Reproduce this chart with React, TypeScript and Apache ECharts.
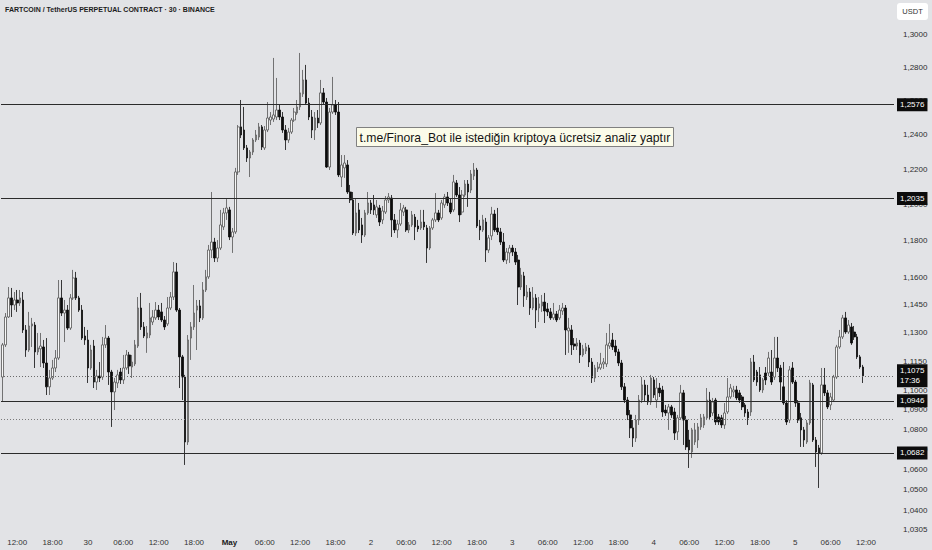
import React, { useEffect, useRef } from "react";
import * as echarts from "echarts";

// [open, close, low, high] per 30-minute candle
const apr29 = [
  [1.1069,1.1237,1.0940,1.1247],[1.1237,1.1385,1.1226,1.1406],[1.1385,1.1487,1.1380,1.1546],[1.1487,1.1449,1.1385,1.1541],
  [1.1449,1.1476,1.1422,1.1519],[1.1476,1.1460,1.1412,1.1530],[1.1460,1.1487,1.1444,1.1530],[1.1476,1.1316,1.1300,1.1519],
  [1.1316,1.1210,1.1174,1.1342],[1.1210,1.1337,1.1200,1.1412],[1.1337,1.1348,1.1226,1.1380],[1.1342,1.1200,1.1116,1.1358],
  [1.1200,1.1221,1.1184,1.1300],[1.1216,1.1231,1.1121,1.1300],[1.1226,1.1142,1.1116,1.1263],[1.1142,1.1018,1.0976,1.1273],
  [1.1018,1.1064,1.0976,1.1106],[1.1064,1.1116,1.1054,1.1158],[1.1116,1.1168,1.1095,1.1210],[1.1168,1.1487,1.1158,1.1584],
  [1.1487,1.1406,1.1390,1.1584],[1.1406,1.1422,1.1252,1.1476],[1.1422,1.1326,1.1316,1.1449],[1.1326,1.1487,1.1316,1.1508],
  [1.1487,1.1595,1.1476,1.1639],[1.1595,1.1487,1.1476,1.1628],[1.1487,1.1422,1.1412,1.1498],[1.1422,1.1273,1.1263,1.1449],
  [1.1284,1.1263,1.1237,1.1332],
];
const apr30 = [
  [1.1263,1.1116,1.1038,1.1316],[1.1116,1.1210,1.1106,1.1237],[1.1231,1.1043,1.1012,1.1263],[1.1043,1.1074,1.1002,1.1106],
  [1.1074,1.1064,1.1043,1.1147],[1.1069,1.1237,1.1054,1.1279],[1.1237,1.1273,1.1221,1.1342],[1.1273,1.1095,1.1028,1.1284],
  [1.1095,1.0992,1.0813,1.1106],[1.0992,1.1043,1.0899,1.1064],[1.1038,1.1080,1.1012,1.1106],[1.1095,1.1054,1.1033,1.1116],
  [1.1054,1.1116,1.1033,1.1184],[1.1116,1.1184,1.1106,1.1210],[1.1184,1.1126,1.1085,1.1200],[1.1121,1.1147,1.1064,1.1184],
  [1.1137,1.1237,1.1126,1.1263],[1.1231,1.1433,1.1221,1.1492],[1.1433,1.1332,1.1316,1.1514],[1.1332,1.1284,1.1273,1.1358],
  [1.1273,1.1300,1.1195,1.1337],[1.1289,1.1380,1.1273,1.1460],[1.1358,1.1385,1.1342,1.1422],[1.1380,1.1422,1.1369,1.1465],
  [1.1422,1.1385,1.1369,1.1449],[1.1412,1.1369,1.1358,1.1460],[1.1369,1.1332,1.1316,1.1390],[1.1348,1.1433,1.1337,1.1492],
  [1.1433,1.1492,1.1422,1.1519],[1.1492,1.1628,1.1476,1.1682],[1.1628,1.1422,1.1412,1.1677],[1.1422,1.1174,1.1012,1.1433],
  [1.1174,1.1069,1.0950,1.1184],[1.1069,1.0737,1.0622,1.1080],[1.0737,1.1263,1.0722,1.1289],[1.1273,1.1332,1.1158,1.1358],
  [1.1332,1.1406,1.1316,1.1557],[1.1422,1.1444,1.1210,1.1476],[1.1444,1.1380,1.1358,1.1476],[1.1380,1.1530,1.1369,1.1573],
  [1.1530,1.1601,1.1519,1.1639],[1.1601,1.1748,1.1590,1.1776],[1.1748,1.1792,1.1704,1.2072],[1.1792,1.1704,1.1682,1.1815],
  [1.1704,1.1759,1.1682,1.1803],[1.1759,1.1887,1.1748,1.1971],[1.1876,1.1954,1.1859,1.1982],[1.1954,1.1982,1.1915,1.2032],
];
const may1 = [
  [1.1971,1.1820,1.1803,1.1988],[1.1820,1.1848,1.1732,1.1870],[1.1848,1.2186,1.1837,1.2209],[1.2186,1.2446,1.2169,1.2457],
  [1.2446,1.2399,1.2381,1.2604],[1.2428,1.2324,1.2312,1.2563],[1.2324,1.2266,1.2243,1.2341],[1.2266,1.2300,1.2157,1.2312],
  [1.2300,1.2370,1.2283,1.2381],[1.2370,1.2399,1.2358,1.2428],[1.2387,1.2446,1.2370,1.2469],[1.2446,1.2329,1.2312,1.2457],
  [1.2324,1.2428,1.2312,1.2451],[1.2428,1.2498,1.2416,1.2592],[1.2486,1.2504,1.2457,1.2533],[1.2492,1.2516,1.2475,1.2855],
  [1.2504,1.2545,1.2486,1.2735],[1.2545,1.2504,1.2486,1.2575],[1.2504,1.2428,1.2411,1.2533],[1.2428,1.2370,1.2312,1.2457],
  [1.2370,1.2416,1.2353,1.2440],[1.2416,1.2486,1.2405,1.2498],[1.2486,1.2533,1.2475,1.2557],[1.2527,1.2563,1.2516,1.2604],
  [1.2563,1.2646,1.2545,1.2885],[1.2640,1.2723,1.2622,1.2783],[1.2723,1.2586,1.2575,1.2813],[1.2586,1.2504,1.2486,1.2616],
  [1.2504,1.2428,1.2381,1.2545],[1.2428,1.2498,1.2370,1.2533],[1.2498,1.2469,1.2440,1.2545],[1.2469,1.2646,1.2457,1.2723],
  [1.2646,1.2592,1.2575,1.2675],[1.2592,1.2214,1.2209,1.2616],[1.2214,1.2533,1.2197,1.2557],[1.2533,1.2575,1.2522,1.2741],
  [1.2575,1.2533,1.2516,1.2604],[1.2533,1.2169,1.2157,1.2592],[1.2157,1.2226,1.2100,1.2283],[1.2209,1.2237,1.2152,1.2283],
  [1.2226,1.2072,1.2061,1.2254],[1.2072,1.2027,1.2010,1.2112],[1.2027,1.1842,1.1831,1.2072],[1.1842,1.1954,1.1826,1.2038],
  [1.1971,1.1859,1.1842,1.2010],[1.1887,1.1831,1.1787,1.1926],[1.1831,1.1954,1.1820,1.1971],[1.1954,1.2010,1.1943,1.2072],
];
const may2 = [
  [1.2010,1.1971,1.1948,1.2027],[1.1999,1.1971,1.1943,1.2055],[1.1943,1.1988,1.1926,1.2027],[1.1982,1.1903,1.1881,1.1999],
  [1.1915,1.1965,1.1892,1.1993],[1.1959,1.2027,1.1948,1.2049],[1.2027,1.2044,1.2010,1.2066],[1.2038,1.1915,1.1820,1.2055],
  [1.1915,1.1859,1.1842,1.1948],[1.1859,1.1892,1.1815,1.1915],[1.1892,1.1971,1.1881,1.2010],[1.1959,1.1982,1.1937,1.1999],
  [1.1971,1.1859,1.1848,1.1988],[1.1859,1.1887,1.1842,1.1903],[1.1887,1.1943,1.1876,1.1965],[1.1931,1.1876,1.1803,1.1948],
  [1.1881,1.1865,1.1848,1.1915],[1.1870,1.1903,1.1859,1.1971],[1.1903,1.1876,1.1859,1.1971],[1.1870,1.1759,1.1677,1.1887],
  [1.1759,1.1870,1.1748,1.1881],[1.1870,1.1915,1.1859,1.1926],[1.1915,1.1954,1.1903,1.2066],[1.1954,1.1915,1.1903,1.1971],
  [1.1926,1.2010,1.1915,1.2027],[1.1999,1.2044,1.1982,1.2061],[1.2044,1.2010,1.1993,1.2072],[1.2010,1.1959,1.1948,1.2038],
  [1.1971,1.2129,1.1959,1.2169],[1.2123,1.2055,1.2044,1.2140],[1.2055,1.1943,1.1903,1.2100],[1.1959,1.2055,1.1943,1.2083],
  [1.2055,1.2117,1.2044,1.2140],[1.2117,1.2072,1.1988,1.2140],[1.2083,1.2174,1.2066,1.2197],[1.2163,1.2197,1.2140,1.2237],
  [1.2197,1.1881,1.1870,1.2209],[1.1881,1.1859,1.1803,1.1915],[1.1859,1.1915,1.1848,1.1943],[1.1903,1.1748,1.1682,1.1926],
  [1.1748,1.1815,1.1732,1.1831],[1.1826,1.1948,1.1803,1.1988],[1.1948,1.1859,1.1848,1.1971],[1.1870,1.1848,1.1831,1.1982],
  [1.1848,1.1792,1.1776,1.1870],[1.1792,1.1693,1.1682,1.1842],[1.1693,1.1737,1.1671,1.1759],[1.1732,1.1759,1.1677,1.1776],
];
const may3 = [
  [1.1759,1.1737,1.1715,1.1776],[1.1737,1.1682,1.1666,1.1759],[1.1693,1.1546,1.1449,1.1721],[1.1546,1.1611,1.1530,1.1650],
  [1.1606,1.1498,1.1439,1.1628],[1.1492,1.1519,1.1476,1.1557],[1.1519,1.1433,1.1396,1.1541],[1.1433,1.1487,1.1422,1.1546],
  [1.1487,1.1422,1.1326,1.1508],[1.1433,1.1455,1.1358,1.1492],[1.1444,1.1465,1.1412,1.1503],[1.1465,1.1417,1.1353,1.1514],
  [1.1428,1.1412,1.1390,1.1460],[1.1412,1.1380,1.1369,1.1433],[1.1380,1.1401,1.1369,1.1460],[1.1401,1.1369,1.1358,1.1417],
  [1.1380,1.1422,1.1369,1.1449],[1.1417,1.1433,1.1396,1.1460],[1.1433,1.1316,1.1184,1.1449],[1.1311,1.1326,1.1195,1.1380],
  [1.1316,1.1237,1.1184,1.1342],[1.1242,1.1231,1.1210,1.1273],[1.1231,1.1247,1.1210,1.1273],[1.1247,1.1184,1.1142,1.1263],
  [1.1184,1.1216,1.1174,1.1237],[1.1205,1.1226,1.1189,1.1247],[1.1221,1.1147,1.1121,1.1237],[1.1147,1.1064,1.1038,1.1168],
  [1.1064,1.1116,1.1043,1.1132],[1.1111,1.1121,1.1095,1.1147],[1.1116,1.1137,1.1106,1.1195],[1.1137,1.1147,1.1111,1.1168],
  [1.1137,1.1237,1.1121,1.1300],[1.1231,1.1247,1.1216,1.1348],[1.1263,1.1226,1.1210,1.1300],[1.1231,1.1200,1.1179,1.1263],
  [1.1200,1.1142,1.1126,1.1216],[1.1142,1.1018,1.1002,1.1158],[1.1018,1.0950,1.0935,1.1038],[1.0950,1.0874,1.0848,1.0966],
  [1.0874,1.0808,1.0757,1.0899],[1.0808,1.0757,1.0712,1.0848],[1.0757,1.0848,1.0737,1.0874],[1.0848,1.0950,1.0823,1.0976],
  [1.0950,1.1028,1.0935,1.1069],[1.1028,1.0976,1.0940,1.1054],[1.0976,1.0940,1.0925,1.1028],[1.0940,1.1064,1.0925,1.1080],
];
const may4 = [
  [1.1054,1.0976,1.0961,1.1069],[1.0950,1.1012,1.0910,1.1064],[1.1012,1.0987,1.0966,1.1038],[1.1002,1.0889,1.0864,1.1023],
  [1.0899,1.0884,1.0869,1.0925],[1.0884,1.0915,1.0798,1.0930],[1.0915,1.0874,1.0859,1.0925],[1.0889,1.0782,1.0747,1.0910],
  [1.0788,1.0859,1.0747,1.0874],[1.0859,1.0987,1.0848,1.1028],[1.0987,1.0848,1.0722,1.1002],[1.0848,1.0712,1.0697,1.0869],
  [1.0747,1.0697,1.0607,1.0798],[1.0687,1.0798,1.0657,1.0808],[1.0737,1.0798,1.0722,1.0833],[1.0747,1.0813,1.0707,1.0833],
  [1.0813,1.0859,1.0798,1.0879],[1.0823,1.0864,1.0808,1.0879],[1.0859,1.0950,1.0848,1.1012],[1.0950,1.0864,1.0848,1.0992],
  [1.0884,1.0940,1.0869,1.0961],[1.0950,1.0838,1.0823,1.0961],[1.0864,1.0838,1.0823,1.0879],[1.0859,1.0823,1.0808,1.0874],
  [1.0823,1.0884,1.0803,1.0935],[1.0889,1.0966,1.0879,1.1064],[1.0966,1.1012,1.0956,1.1033],[1.0992,1.1002,1.0966,1.1023],
  [1.1002,1.0961,1.0950,1.1023],[1.0987,1.0950,1.0935,1.1002],[1.0966,1.0915,1.0899,1.0976],[1.0925,1.0884,1.0864,1.0935],
  [1.0889,1.0859,1.0823,1.0904],[1.0889,1.1147,1.0869,1.1168],[1.1147,1.1054,1.1043,1.1184],[1.1095,1.1043,1.1023,1.1106],
  [1.1080,1.1002,1.0992,1.1121],[1.1002,1.1054,1.0987,1.1064],[1.1090,1.1054,1.1028,1.1121],[1.1090,1.1168,1.1074,1.1200],
  [1.1095,1.1043,1.1028,1.1210],[1.1069,1.1168,1.1054,1.1279],[1.1168,1.1116,1.1095,1.1279],[1.1116,1.1043,1.0950,1.1132],
  [1.1018,1.0935,1.0925,1.1147],[1.0935,1.0838,1.0823,1.0950],[1.0848,1.1106,1.0833,1.1126],[1.1116,1.1043,1.1033,1.1147],
];
const may5 = [
  [1.1043,1.0935,1.0915,1.1054],[1.0935,1.0848,1.0833,1.0950],[1.0859,1.0798,1.0712,1.0884],[1.0798,1.0747,1.0712,1.0813],
  [1.0737,1.0833,1.0727,1.0848],[1.0833,1.1038,1.0823,1.1054],[1.1028,1.0747,1.0737,1.1038],[1.0747,1.0687,1.0612,1.0762],
  [1.0707,1.0682,1.0508,1.0722],[1.0682,1.1028,1.0672,1.1116],[1.1028,1.0987,1.0971,1.1116],[1.0987,1.0915,1.0904,1.1002],
  [1.0925,1.0966,1.0899,1.0987],[1.0950,1.1069,1.0940,1.1080],[1.1069,1.1226,1.1059,1.1237],[1.1226,1.1279,1.1216,1.1316],
  [1.1279,1.1380,1.1268,1.1396],[1.1380,1.1305,1.1295,1.1412],[1.1305,1.1342,1.1295,1.1369],[1.1332,1.1247,1.1237,1.1353],
  [1.1305,1.1279,1.1263,1.1337],[1.1279,1.1174,1.1163,1.1295],[1.1174,1.1121,1.1111,1.1184],[1.1121,1.1075,1.1038,1.1132],
];

const firstCandleUTC = Date.UTC(2025, 3, 29, 9, 30);
const candleMinutes = 30;
const rightPadCandles = 10;

const priceTicks = [1.30, 1.28, 1.26, 1.24, 1.22, 1.20, 1.18, 1.16, 1.145, 1.13, 1.115, 1.10, 1.09, 1.08, 1.07, 1.06, 1.05, 1.04, 1.0305];
const levelLines = [1.2576, 1.2035, 1.0946, 1.0682];
const lastPrice = 1.1075;
const countdown = "17:36";
const dottedLevel = 1.0853;
const priceMin = 1.02933;
const priceMax = 1.32089;

const title = "FARTCOIN / TetherUS PERPETUAL CONTRACT · 30 · BINANCE";
const note = "t.me/Finora_Bot ile istediğin kriptoya ücretsiz analiz yaptır";
const currency = "USDT";
const monthNames = ["Jan","Feb","Mar","Apr","May","Jun","Jul","Aug","Sep","Oct","Nov","Dec"];

const FONT = "'Liberation Sans', Arial, sans-serif";

function fmtPrice(v: number) {
  return v.toFixed(4).replace(".", ",");
}

export default function App() {
  const ref = useRef<HTMLDivElement>(null);
  useEffect(() => {
    if (!ref.current) return;
    const chart = echarts.init(ref.current, undefined, { renderer: "svg" });
    const candles = [...apr29, ...apr30, ...may1, ...may2, ...may3, ...may4, ...may5];
    const total = candles.length + rightPadCandles;
    const cats: string[] = [];
    for (let i = 0; i < total; i++) {
      const d = new Date(firstCandleUTC + i * candleMinutes * 60000);
      cats.push(`${d.getUTCMonth()}|${d.getUTCDate()}|${d.getUTCHours()}|${d.getUTCMinutes()}`);
    }
    const parse = (s: string) => s.split("|").map(Number);
    const ln = Math.log;
    const data = candles.map((c) => c.map(ln));

    const tickMarks = priceTicks.map((t) => ({
      yAxis: ln(t),
      lineStyle: { color: "rgba(0,0,0,0)", width: 0 },
      label: { show: true, position: "end", formatter: fmtPrice(t), color: "#2e2e2e", fontSize: 8, fontFamily: FONT, distance: 9 },
    }));
    const boxLabel = (text: string) => ({
      show: true, position: "end", formatter: text, color: "#ffffff", backgroundColor: "#0c0c0c",
      fontSize: 8, fontFamily: FONT, distance: 3, padding: [2, 3, 1, 3], lineHeight: 10,
    });
    const levelMarks: any[] = levelLines.map((v) => ({
      yAxis: ln(v),
      lineStyle: { color: "#2b2b2b", width: 1, type: "solid" },
      label: boxLabel(fmtPrice(v)),
    }));
    levelMarks.push({
      yAxis: ln(dottedLevel),
      lineStyle: { color: "#7a7a7a", width: 1, type: [1, 2] },
      label: { show: false },
    });
    levelMarks.push({
      yAxis: ln(lastPrice),
      lineStyle: { color: "#6a6a6a", width: 1, type: [1, 2] },
      label: boxLabel(fmtPrice(lastPrice) + "\n" + countdown),
    });

    chart.setOption({
      animation: false,
      backgroundColor: "#e2e3e6",
      grid: { left: 1, right: 38, top: 0, bottom: 18 },
      xAxis: {
        type: "category",
        data: cats,
        boundaryGap: true,
        axisLine: { show: false },
        axisTick: { show: false },
        splitLine: { show: false },
        axisLabel: {
          interval: (_i: number, v: string) => {
            const [, , h, m] = parse(v);
            return m === 0 && h % 6 === 0;
          },
          formatter: (v: string) => {
            const [mo, day, h] = parse(v);
            if (h === 0) return day === 1 ? `{b|${monthNames[mo]}}` : String(day);
            return `${String(h).padStart(2, "0")}:00`;
          },
          color: "#333",
          fontSize: 8,
          fontFamily: FONT,
          margin: 6,
          rich: { b: { fontWeight: "bold", fontSize: 8, color: "#1a1a1a", fontFamily: FONT } },
        },
      },
      yAxis: { type: "value", min: ln(priceMin), max: ln(priceMax), show: false },
      series: [
        {
          type: "candlestick",
          data,
          z: 3,
          barWidth: 2.1,
          itemStyle: {
            color: "#f7f7f7",
            color0: "#0b0b0b",
            borderColor: "#555555",
            borderColor0: "#0b0b0b",
            borderWidth: 0.8,
          },
          markLine: { symbol: "none", silent: true, precision: 10, data: [...tickMarks, ...levelMarks] },
        },
      ],
      graphic: [
        {
          type: "text", left: 5, top: 6,
          style: { text: title, fill: "#1c1c1c", font: `bold 7px ${FONT}` },
        },
        {
          type: "group", left: 897, top: 3,
          children: [
            { type: "rect", shape: { x: 0, y: 0, width: 31, height: 17, r: 3 }, style: { fill: "#ffffff" } },
            { type: "text", x: 15.5, y: 8.5, style: { text: currency, fill: "#333", font: `7.5px ${FONT}`, align: "center", verticalAlign: "middle" } },
          ],
        },
        {
          type: "group", left: 356, top: 127,
          children: [
            { type: "rect", shape: { x: 0, y: 0, width: 317, height: 19 }, style: { fill: "#fbfbe9", stroke: "#808080", lineWidth: 1 } },
            { type: "text", x: 3, y: 10, style: { text: note, fill: "#141414", font: `12.2px ${FONT}`, verticalAlign: "middle" } },
          ],
        },
      ],
    });
    return () => chart.dispose();
  }, []);
  return <div ref={ref} style={{ position: "absolute", left: 0, top: 0, width: 932, height: 550 }} />;
}
